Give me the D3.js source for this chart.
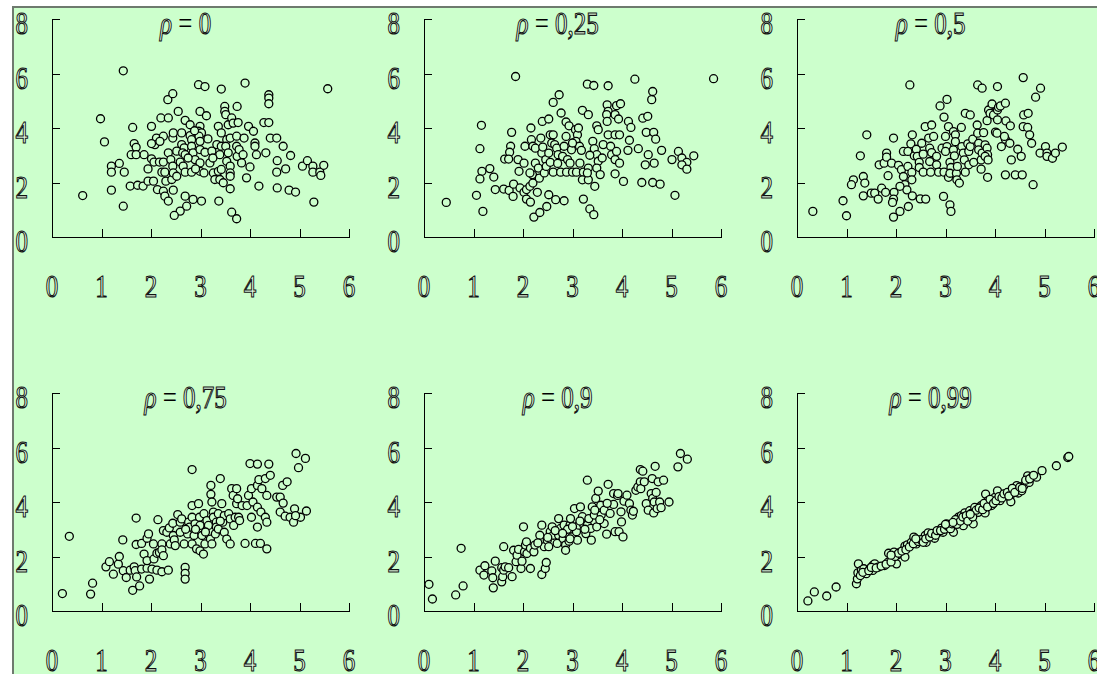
<!DOCTYPE html>
<html>
<head>
<meta charset="utf-8">
<script src="https://cdn.jsdelivr.net/npm/d3@7"></script>
<style>
  html, body { margin: 0; padding: 0; background: #fff; }
  svg { display: block; }
  .axis path, .axis line { stroke: #000; stroke-width: 1px; shape-rendering: crispEdges; }
</style>
</head>
<body>
<svg id="chart" width="1097" height="674"></svg>
<script>
// tick values and panel titles
const xTicks = [0, 1, 2, 3, 4, 5, 6];
const yTicks = [0, 2, 4, 6, 8];
const rhoLabels = ['0', '0,25', '0,5', '0,75', '0,9', '0,99'];

// points, [x, y]
const rho0 = [[0.62,1.52],[1.44,6.1],[0.98,4.34],[1.06,3.49],[1.2,2.6],[1.2,2.38],[1.36,2.7],[1.46,2.38],[1.2,1.72],[1.44,1.13],
[1.63,4.02],[1.66,3.43],[1.7,3.29],[1.6,3.02],[1.7,3.02],[1.86,3.02],[1.58,1.87],[1.73,1.9],[1.84,1.87],[1.94,2.05],
[2.01,4.06],[1.94,2.5],[2.01,2.87],[2.05,2.05],[2.11,3.63],[2.08,3.39],[2.01,3.43],[2.2,4.37],[2.35,4.37],[2.25,3.7],
[2.18,3.51],[2.06,2.75],[2.17,2.75],[2.25,2.75],[2.22,2.38],[2.28,2.38],[2.13,1.74],[2.25,1.68],[2.28,1.5],[2.35,1.32],
[2.45,1.72],[2.3,2.05],[2.42,2.11],[2.34,5.04],[2.44,5.26],[2.35,3.09],[2.4,2.84],[2.44,2.6],[2.45,2.35],[2.52,2.23],
[2.44,3.63],[2.45,3.82],[2.55,4.61],[2.62,3.82],[2.62,3.39],[2.67,3.27],[2.52,3.15],[2.64,3.09],[2.69,3.02],[2.59,2.75],
[2.65,2.6],[2.69,2.38],[2.69,1.5],[2.72,1.13],[2.59,0.95],[2.47,0.79],[2.85,1.38],[3.02,1.32],[2.69,4.28],[2.79,4.12],
[2.79,3.72],[2.82,3.57],[2.82,3.33],[2.85,3.09],[2.82,2.38],[2.89,2.84],[2.96,5.59],[3.09,5.52],[2.99,4.61],[3.12,4.45],
[2.99,4.06],[2.96,3.88],[3.02,3.82],[2.97,3.7],[2.99,3.51],[2.99,3.21],[2.99,2.72],[2.99,2.41],[3.07,2.35],[3.09,3.11],
[3.19,2.72],[3.26,2.35],[3.23,3.15],[3.29,2.11],[3.42,5.43],[3.36,4.06],[3.33,3.39],[3.42,3.82],[3.42,3.33],[3.39,3.02],
[3.36,2.41],[3.42,2.48],[3.39,2.11],[3.46,1.99],[3.37,1.32],[3.49,4.79],[3.49,4.61],[3.51,4.49],[3.56,4.12],[3.63,4.37],
[3.66,4.18],[3.74,4.79],[3.76,4.2],[3.53,3.57],[3.6,3.63],[3.51,3.33],[3.56,3.09],[3.53,2.78],[3.6,2.6],[3.6,2.35],
[3.6,2.23],[3.6,1.77],[3.73,3.7],[3.73,3.33],[3.74,2.96],[3.78,3.21],[3.86,3.02],[3.83,2.72],[3.88,3.63],[3.63,0.91],
[3.73,0.67],[3.9,5.65],[3.97,4.06],[4.07,3.88],[4.0,2.57],[3.93,2.17],[4.1,3.45],[4.1,3.33],[4.13,3.02],[4.18,1.87],
[4.28,4.2],[4.38,4.2],[4.38,5.22],[4.38,5.1],[4.38,4.89],[4.32,3.09],[4.41,3.63],[4.54,3.63],[4.67,3.33],[4.55,2.8],
[4.54,2.38],[4.72,2.5],[4.82,2.99],[4.55,1.8],[4.79,1.72],[4.92,1.65],[5.06,2.6],[5.16,2.8],[5.27,2.6],[5.27,2.38],
[5.41,2.38],[5.43,2.26],[5.49,2.63],[5.29,1.28],[5.57,5.44],[2.88,3.9],[3.15,3.6],[2.75,2.9],[3.25,2.9],[2.9,2.5]];

const rho025 = [[0.45,1.27],[1.06,1.53],[1.19,0.94],[1.16,4.1],[1.13,3.24],[1.17,2.41],[1.13,2.13],[1.33,2.51],[1.41,2.2],[1.44,1.74],
[1.61,1.76],[1.72,1.71],[1.8,1.49],[1.81,1.94],[1.77,3.84],[1.75,3.33],[1.73,3.11],[1.63,2.86],[1.71,2.86],[1.85,5.89],
[1.9,2.84],[1.92,2.41],[1.94,1.8],[2.02,1.64],[2.07,1.74],[2.14,1.86],[2.04,3.33],[2.02,2.71],[2.07,1.39],[2.15,1.28],
[2.29,1.64],[2.22,0.73],[2.34,0.9],[2.48,1.12],[2.16,4.0],[2.17,3.57],[2.2,3.33],[2.25,3.26],[2.19,2.29],[2.14,2.35],
[2.2,1.98],[2.25,2.71],[2.31,2.53],[2.33,2.16],[2.39,4.24],[2.52,4.33],[2.36,3.63],[2.38,3.08],[2.43,2.35],[2.46,2.84],
[2.47,2.59],[2.52,3.08],[2.55,3.75],[2.61,3.75],[2.58,3.45],[2.61,4.94],[2.73,5.22],[2.77,4.55],[2.64,3.39],[2.68,3.26],
[2.61,2.38],[2.55,2.74],[2.52,1.55],[2.66,1.37],[2.83,1.33],[2.71,3.02],[2.8,2.96],[2.76,2.38],[2.88,2.38],[2.87,4.22],
[2.93,4.08],[2.87,3.69],[2.83,3.33],[2.9,2.84],[2.95,2.71],[3.0,2.38],[3.08,2.38],[2.98,3.2],[3.06,3.94],[3.1,3.75],
[3.12,4.0],[3.07,3.51],[3.14,3.33],[3.15,2.71],[3.2,4.65],[3.18,3.18],[3.3,5.61],[3.43,5.56],[3.32,4.49],[3.22,2.38],
[3.2,2.1],[3.32,2.53],[3.32,2.1],[3.3,2.35],[3.22,1.39],[3.35,1.03],[3.43,0.82],[3.45,1.86],[3.49,4.08],[3.52,3.94],
[3.41,3.51],[3.44,3.24],[3.49,3.02],[3.52,2.78],[3.49,2.53],[3.56,2.29],[3.62,3.39],[3.72,5.55],[3.7,4.85],[3.72,4.61],
[3.69,4.49],[3.7,4.24],[3.72,3.75],[3.86,3.75],[3.95,3.75],[3.77,3.33],[3.79,3.02],[3.86,2.84],[3.95,2.71],[3.86,2.32],
[3.89,4.82],[3.97,4.89],[3.86,4.49],[3.93,4.33],[3.89,3.14],[4.03,2.04],[4.13,4.24],[4.18,4.02],[4.15,3.55],[4.12,3.18],
[4.26,5.79],[4.33,3.24],[4.42,4.36],[4.52,4.43],[4.4,2.0],[4.49,3.84],[4.64,3.84],[4.68,3.59],[4.53,3.02],[4.47,2.65],
[4.65,2.71],[4.6,5.04],[4.62,5.34],[4.62,2.0],[4.77,1.94],[4.8,3.18],[5.01,2.84],[5.14,3.14],[5.21,2.9],[5.31,2.74],
[5.21,2.65],[5.31,2.49],[5.45,2.98],[5.07,1.53],[5.85,5.81],[2.4,3.3],[2.7,2.7],[3.0,3.45],[3.35,3.0],[3.6,2.9]];

const rho05 = [[0.32,0.94],[0.93,1.33],[1.0,0.78],[1.14,2.1],[1.1,1.92],[1.34,2.22],[1.37,1.98],[1.34,1.51],[1.28,2.98],[1.41,3.75],
[1.5,1.61],[1.57,1.61],[1.64,1.39],[1.66,2.65],[1.76,2.71],[1.81,3.08],[1.81,2.93],[1.84,2.25],[1.71,1.79],[1.79,1.64],
[1.91,2.71],[1.95,3.63],[1.96,1.64],[1.95,1.39],[1.93,1.27],[1.95,0.73],[2.08,0.94],[2.25,1.12],[2.05,2.63],[2.11,2.47],
[2.15,2.22],[2.18,1.92],[2.22,1.73],[2.08,1.86],[2.15,3.14],[2.24,3.14],[2.28,5.58],[2.24,2.59],[2.32,2.37],[2.32,2.1],
[2.33,1.51],[2.33,3.75],[2.3,3.42],[2.37,2.98],[2.41,3.22],[2.43,2.96],[2.49,1.4],[2.6,1.39],[2.47,2.74],[2.47,2.55],
[2.52,3.44],[2.55,2.38],[2.55,3.04],[2.59,4.05],[2.72,4.11],[2.66,3.63],[2.68,3.26],[2.72,3.1],[2.68,2.77],[2.7,2.38],
[2.76,3.69],[2.82,2.65],[2.86,2.38],[2.82,2.96],[2.89,4.81],[2.93,3.26],[2.96,1.49],[2.97,4.4],[3.03,5.05],[3.0,3.69],
[3.03,3.32],[3.0,3.14],[2.97,2.38],[3.06,2.19],[3.06,4.05],[3.09,2.74],[3.11,2.55],[3.09,2.34],[3.09,1.18],[3.11,0.94],
[3.16,3.87],[3.2,3.75],[3.2,3.5],[3.16,3.2],[3.18,2.98],[3.22,2.34],[3.23,2.1],[3.28,1.98],[3.24,2.59],[3.32,4.02],
[3.33,3.32],[3.36,3.08],[3.4,4.54],[3.5,4.48],[3.38,2.83],[3.4,2.38],[3.45,3.42],[3.47,3.14],[3.47,2.65],[3.5,3.32],
[3.55,3.59],[3.57,2.74],[3.64,4.11],[3.65,5.58],[3.74,5.46],[3.65,3.81],[3.67,3.44],[3.67,3.2],[3.72,2.83],[3.72,2.49],
[3.74,3.08],[3.77,3.83],[3.8,3.38],[3.84,3.26],[3.85,3.02],[3.8,2.96],[3.86,2.83],[3.85,2.19],[3.84,4.27],[3.87,4.66],
[3.9,4.54],[3.94,4.88],[3.97,4.48],[4.01,3.85],[4.04,3.81],[4.05,4.66],[4.05,4.3],[4.05,5.52],[4.07,4.76],[4.11,4.81],
[4.13,3.32],[4.21,4.91],[4.21,3.59],[4.19,3.69],[4.21,2.28],[4.22,4.26],[4.31,4.08],[4.3,3.44],[4.33,2.83],[4.41,2.28],
[4.55,2.28],[4.46,3.22],[4.53,2.96],[4.57,5.85],[4.58,4.48],[4.67,4.54],[4.57,4.05],[4.66,4.02],[4.7,3.75],[4.74,3.44],
[4.77,1.92],[4.82,5.13],[4.92,5.46],[4.91,3.08],[5.02,3.32],[5.05,3.08],[5.05,2.96],[5.16,2.89],[5.22,3.08],[5.36,3.3]];

const rho075 = [[0.21,0.64],[0.35,2.74],[0.78,0.62],[0.82,1.02],[1.09,1.62],[1.16,1.81],[1.24,1.35],[1.34,1.72],[1.36,2.0],[1.43,2.61],
[1.44,1.48],[1.5,1.23],[1.58,1.5],[1.63,0.76],[1.66,1.62],[1.68,1.48],[1.7,3.41],[1.7,2.44],[1.71,1.25],[1.77,0.92],
[1.81,1.54],[1.81,2.48],[1.86,2.09],[1.92,1.57],[1.92,1.85],[1.97,1.17],[1.92,2.67],[1.95,2.83],[2.02,1.54],[2.05,2.46],
[2.06,1.91],[2.12,2.12],[2.12,1.5],[2.17,2.15],[2.22,2.46],[2.22,2.24],[2.25,2.03],[2.22,1.44],[2.35,1.5],[2.14,3.35],
[2.25,2.95],[2.32,2.89],[2.37,3.05],[2.39,2.46],[2.44,3.22],[2.45,2.77],[2.47,2.61],[2.49,2.4],[2.54,3.54],[2.59,3.26],
[2.59,2.89],[2.62,3.38],[2.67,2.46],[2.69,1.6],[2.69,1.38],[2.69,1.17],[2.74,2.83],[2.76,3.26],[2.78,3.08],[2.83,5.19],
[2.83,3.87],[2.83,3.44],[2.83,2.46],[2.87,2.77],[2.89,3.2],[2.92,2.28],[2.96,3.94],[2.98,3.44],[2.99,3.14],[2.99,2.21],
[3.03,2.77],[3.06,2.09],[3.07,3.57],[3.09,2.46],[3.13,3.32],[3.16,3.14],[3.2,2.64],[3.21,4.61],[3.21,4.28],[3.23,4.0],
[3.23,2.46],[3.26,3.63],[3.26,3.44],[3.3,2.83],[3.32,3.26],[3.32,3.08],[3.36,3.57],[3.36,3.01],[3.4,4.86],[3.43,3.94],
[3.45,3.26],[3.48,3.5],[3.48,2.89],[3.53,2.64],[3.57,3.57],[3.6,2.46],[3.63,4.49],[3.66,4.24],[3.6,3.38],[3.67,3.14],
[3.7,3.44],[3.73,4.49],[3.73,3.94],[3.75,4.12],[3.77,3.44],[3.79,3.32],[3.84,3.87],[3.9,2.48],[3.94,3.87],[3.97,4.24],
[4.0,5.41],[4.03,3.44],[4.03,4.49],[4.06,4.0],[4.11,2.48],[4.15,5.39],[4.15,4.61],[4.18,4.82],[4.15,3.81],[4.15,3.08],
[4.21,2.48],[4.24,4.49],[4.22,3.63],[4.31,3.44],[4.31,4.86],[4.34,2.28],[4.34,3.26],[4.34,4.24],[4.38,5.39],[4.41,4.98],
[4.54,4.18],[4.61,4.18],[4.66,4.61],[4.67,3.96],[4.75,4.74],[4.61,3.63],[4.71,3.48],[4.81,3.44],[4.9,3.75],[4.88,3.26],
[4.93,5.78],[4.98,5.26],[5.02,3.44],[4.92,3.5],[5.12,5.6],[5.14,3.67],[2.9,3.0],[3.1,2.9],[3.4,3.3],[2.7,3.0]];

const rho09 = [[0.1,0.98],[0.17,0.44],[0.64,0.59],[0.79,0.92],[0.75,2.3],[1.13,1.5],[1.21,1.32],[1.23,1.66],[1.37,1.47],[1.39,1.22],
[1.4,0.85],[1.44,1.83],[1.57,1.59],[1.57,1.07],[1.59,1.26],[1.61,2.36],[1.61,1.5],[1.64,1.62],[1.78,1.26],[1.71,1.59],
[1.81,2.23],[1.86,1.81],[1.88,2.05],[1.91,2.26],[1.96,1.56],[1.98,1.83],[2.01,3.09],[2.03,2.17],[2.05,2.42],[2.07,2.54],
[2.08,2.11],[2.15,1.56],[2.15,2.3],[2.22,2.17],[2.24,2.42],[2.34,2.78],[2.38,1.34],[2.45,1.56],[2.47,1.78],[2.38,3.15],
[2.43,2.36],[2.49,2.6],[2.52,2.36],[2.55,2.91],[2.59,3.09],[2.61,2.78],[2.69,2.48],[2.72,3.39],[2.72,2.78],[2.76,3.03],
[2.81,2.66],[2.83,3.15],[2.86,2.42],[2.86,2.23],[2.89,2.84],[2.93,2.56],[2.95,3.15],[2.96,3.39],[2.99,2.72],[3.04,3.76],
[3.08,2.91],[3.1,2.6],[3.13,3.15],[3.16,3.82],[3.2,3.46],[3.23,3.15],[3.27,2.84],[3.3,4.8],[3.3,3.15],[3.33,3.39],
[3.37,3.03],[3.38,2.6],[3.4,3.82],[3.44,3.52],[3.47,4.13],[3.49,3.09],[3.52,4.4],[3.57,3.88],[3.58,3.52],[3.64,3.7],
[3.64,3.21],[3.69,2.82],[3.72,4.65],[3.76,3.58],[3.83,4.31],[3.83,3.91],[3.86,2.91],[3.91,4.24],[3.92,4.31],[3.94,2.91],
[3.98,3.64],[3.99,3.27],[4.02,2.72],[4.04,4.03],[4.1,4.25],[4.15,3.94],[4.18,3.7],[4.21,3.52],[4.23,3.66],[4.28,4.43],
[4.32,4.55],[4.37,5.19],[4.37,4.74],[4.42,5.13],[4.38,4.49],[4.45,4.74],[4.49,3.94],[4.53,3.7],[4.59,4.31],[4.61,4.86],
[4.62,4.13],[4.64,3.6],[4.65,4.0],[4.67,5.31],[4.69,4.35],[4.71,3.76],[4.73,4.74],[4.76,4.0],[4.79,3.79],[4.84,4.8],
[4.95,4.0],[5.13,5.29],[5.18,5.78],[5.32,5.57],[2.65,2.95],[2.9,3.0],[3.0,3.1],[3.15,3.3],[3.45,3.7],[3.55,3.35],
[2.8,2.85],[2.5,2.7],[2.3,2.5],[3.7,3.95],[3.25,3.0],[2.95,2.65]];

const rho099 = [[0.22,0.37],[0.35,0.7],[0.6,0.55],[0.79,0.88],[1.2,1.0],[1.22,1.18],[1.24,1.73],[1.23,1.4],[1.3,1.49],[1.35,1.55],
[1.4,1.37],[1.47,1.55],[1.53,1.67],[1.53,1.49],[1.57,1.73],[1.64,1.61],[1.77,1.67],[1.84,1.79],[1.85,2.12],[1.94,1.85],
[1.96,2.16],[2.01,1.73],[2.03,2.06],[2.09,2.16],[2.18,1.98],[2.18,2.38],[2.23,2.43],[2.31,2.52],[2.36,2.71],[2.41,2.46],
[2.51,2.59],[2.59,2.77],[2.61,2.52],[2.65,2.87],[2.75,2.83],[2.78,2.67],[2.86,2.89],[2.92,3.04],[2.95,2.89],[3.02,3.2],
[3.09,3.07],[3.16,2.89],[3.19,3.26],[3.26,3.44],[3.32,3.5],[3.36,3.13],[3.39,3.6],[3.46,3.38],[3.49,3.68],[3.56,3.2],
[3.59,3.8],[3.66,3.62],[3.72,3.87],[3.8,3.6],[3.81,4.29],[3.86,4.05],[3.93,3.87],[4.0,4.17],[4.05,4.41],[4.1,4.05],
[4.2,4.29],[4.3,4.17],[4.32,4.01],[4.37,4.41],[4.44,4.6],[4.47,4.33],[4.54,4.41],[4.59,4.62],[4.66,4.96],[4.69,4.72],
[4.74,4.91],[4.84,4.91],[4.95,5.15],[5.24,5.33],[5.47,5.63],[5.49,5.67],[1.28,1.3],[1.33,1.42],[1.45,1.48],[1.5,1.6],
[1.6,1.58],[1.7,1.65],[1.8,1.72],[1.9,1.8],[1.98,2.0],[2.05,2.12],[2.12,2.2],[2.2,2.25],[2.27,2.35],[2.35,2.47],
[2.45,2.55],[2.5,2.62],[2.55,2.52],[2.6,2.65],[2.68,2.72],[2.72,2.85],[2.8,2.78],[2.83,2.95],[2.9,2.95],[2.98,3.0],
[3.05,3.1],[3.1,3.02],[3.13,3.2],[3.2,3.35],[3.23,3.18],[3.3,3.3],[3.35,3.45],[3.42,3.5],[3.45,3.3],[3.52,3.58],
[3.55,3.45],[3.62,3.7],[3.68,3.78],[3.75,3.72],[3.78,3.95],[3.85,3.82],[3.9,4.1],[3.97,3.95],[4.02,4.05],[4.08,4.2],
[4.14,4.15],[4.18,4.3],[4.25,4.35],[4.28,4.22],[4.35,4.5],[4.4,4.35],[4.5,4.55],[4.55,4.5],[4.62,4.8],[4.7,4.85],
[4.78,4.98],[3.15,3.25],[2.4,2.65],[1.9,2.05],[3.0,3.18],[3.5,3.55]];

const series = [rho0, rho025, rho05, rho075, rho09, rho099];

const bg = '#ccffcc';
const serif = "'Liberation Serif', 'Times New Roman', 'DejaVu Serif', serif";
const svg = d3.select('#chart');

// outlined serif label, stretched a bit vertically like the original
function label(sel) {
  return sel
    .style('font-family', serif)
    .style('font-size', '25px')
    .attr('fill', '#e4ffe4')
    .attr('stroke', '#111')
    .attr('stroke-width', 0.9);
}

// green plot area with its grey frame on top and left
svg.append('rect').attr('x', 13).attr('y', 7).attr('width', 1084).attr('height', 667).attr('fill', bg);
svg.append('path').attr('d', 'M13,674V7H1097').attr('fill', 'none').attr('stroke', '#6e7a6e').attr('stroke-width', 2);

const colX = [52, 424, 797];
const rowTop = [19, 393];
const pw = 297, ph = 218;

series.forEach((pts, i) => {
  const left = colX[i % 3], top = rowTop[Math.floor(i / 3)];
  const x = d3.scaleLinear().domain([0, 6]).range([left, left + pw]);
  const y = d3.scaleLinear().domain([0, 8]).range([top + ph, top]);
  const g = svg.append('g');

  g.append('g').attr('class', 'axis')
    .attr('transform', `translate(${left},0)`)
    .call(d3.axisRight(y).tickValues(yTicks).tickSizeInner(8).tickSizeOuter(0).tickFormat(''));
  g.append('g').attr('class', 'axis')
    .attr('transform', `translate(0,${top + ph})`)
    .call(d3.axisTop(x).tickValues(xTicks.slice(1)).tickSizeInner(8).tickSizeOuter(0).tickFormat(''));

  g.selectAll('.ylab').data(yTicks).join('text')
    .call(label)
    .attr('text-anchor', 'end')
    .attr('transform', d => `translate(${left - 24},${y(d) + 15}) scale(1,1.25)`)
    .text(d => d);

  g.selectAll('.xlab').data(xTicks).join('text')
    .call(label)
    .attr('text-anchor', 'middle')
    .attr('transform', d => `translate(${x(d)},${top + ph + 60}) scale(1,1.25)`)
    .text(d => d);

  const t = g.append('text').call(label)
    .attr('text-anchor', 'middle')
    .attr('transform', `translate(${x(2.7)},${top + 15}) scale(1,1.25)`);
  t.append('tspan').attr('font-style', 'italic').text('ρ');
  t.append('tspan').attr('fill', '#000').attr('stroke', 'none').text(' = ');
  t.append('tspan').text(rhoLabels[i]);

  g.selectAll('circle').data(pts).join('circle')
    .attr('cx', d => x(d[0]))
    .attr('cy', d => y(d[1]))
    .attr('r', 4)
    .attr('fill', bg)
    .attr('stroke', '#000')
    .attr('stroke-width', 1.3);
});
</script>
</body>
</html>
